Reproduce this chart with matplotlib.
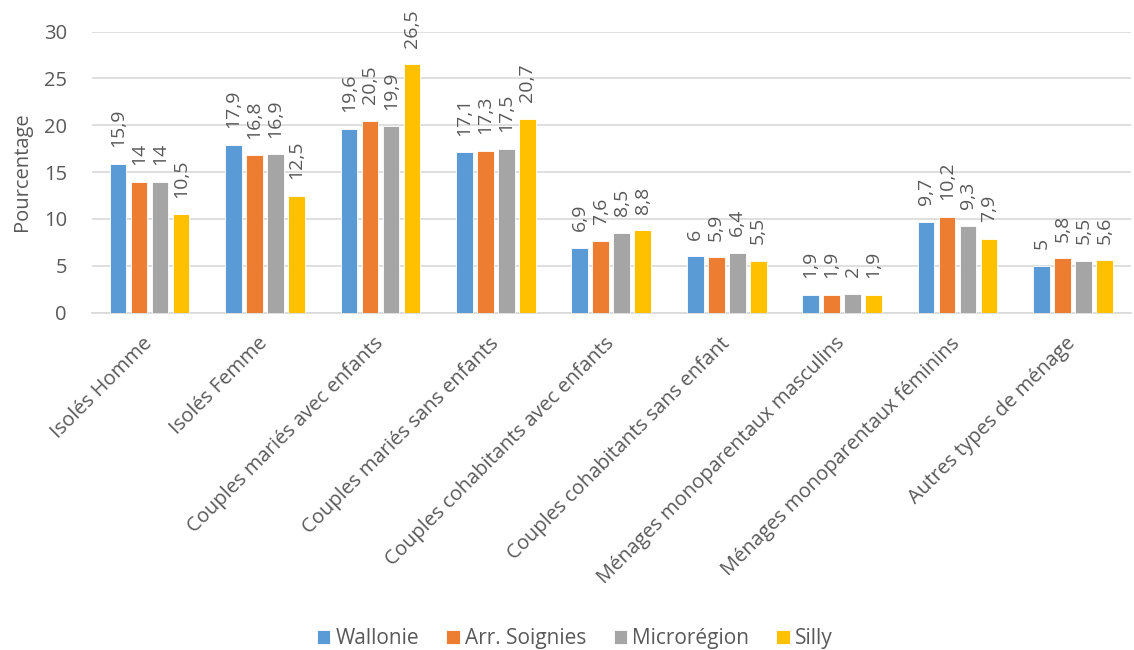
import matplotlib
matplotlib.use("Agg")
import matplotlib.pyplot as plt
import numpy as np

categories = ["Isolés Homme", "Isolés Femme", "Couples mariés avec enfants",
              "Couples mariés sans enfants", "Couples cohabitants avec enfants",
              "Couples cohabitants sans enfant", "Ménages monoparentaux masculins",
              "Ménages monoparentaux féminins", "Autres types de ménage"]
series_names = ["Wallonie", "Arr. Soignies", "Microrégion", "Silly"]
wallonie = [15.9, 17.9, 19.6, 17.1, 6.9, 6.0, 1.9, 9.7, 5.0]
soignies = [14.0, 16.8, 20.5, 17.3, 7.6, 5.9, 1.9, 10.2, 5.8]
microregion = [14.0, 16.9, 19.9, 17.5, 8.5, 6.4, 2.0, 9.3, 5.5]
silly = [10.5, 12.5, 26.5, 20.7, 8.8, 5.5, 1.9, 7.9, 5.6]
colors = ["#5B9BD5", "#ED7D31", "#A5A5A5", "#FFC000"]

plt.rcParams['font.family'] = ['Open Sans', 'DejaVu Sans']
txt = "#595959"

fig = plt.figure(figsize=(11.34, 6.5), dpi=100)
ax = fig.add_axes([0.081, 0.519, 0.916, 0.4323])

x = np.arange(len(categories))
width = 0.145
step = 0.182
all_series = [wallonie, soignies, microregion, silly]
for i, (vals, name, c) in enumerate(zip(all_series, series_names, colors)):
    pos = x + (i - 1.5) * step
    ax.bar(pos, vals, width, color=c, label=name, zorder=3,
           edgecolor="white", linewidth=0.6)
    for p, v in zip(pos, vals):
        lab = (f"{v:g}").replace(".", ",")
        ax.annotate(lab, (p, v), xytext=(0, 12), textcoords="offset points",
                    rotation=90, ha="center", va="bottom", fontsize=14, color=txt,
                    annotation_clip=False)

ax.set_xlim(-0.5, len(categories) - 0.5)
ax.set_ylim(0, 30)
ax.set_yticks(range(0, 31, 5))
ax.yaxis.grid(True, color="#D9D9D9", linewidth=1.2, zorder=0)
ax.set_axisbelow(True)
for s in ["top", "right", "left"]:
    ax.spines[s].set_visible(False)
ax.spines["bottom"].set_color("#D9D9D9")
ax.spines["bottom"].set_linewidth(1.2)
ax.tick_params(axis="both", length=0, colors=txt, labelsize=14.5)
ax.tick_params(axis="y", pad=18)
ax.set_xticks(x)
ax.set_xticklabels(categories, rotation=45, ha="right", va="center",
                   rotation_mode="anchor", fontsize=14.5, color=txt)
ax.tick_params(axis="x", pad=20)
ax.set_ylabel("Pourcentage", fontsize=14.5, color=txt)
ax.yaxis.set_label_coords(-0.058, 0.5)

fig.legend(*ax.get_legend_handles_labels(), loc="center", bbox_to_anchor=(0.507, 0.017),
           ncol=4, frameon=False, fontsize=15, handlelength=0.65, handleheight=0.65,
           columnspacing=1.3, handletextpad=0.25, labelcolor=txt, borderaxespad=0)

fig.savefig("out.png", dpi=100, facecolor="white")
